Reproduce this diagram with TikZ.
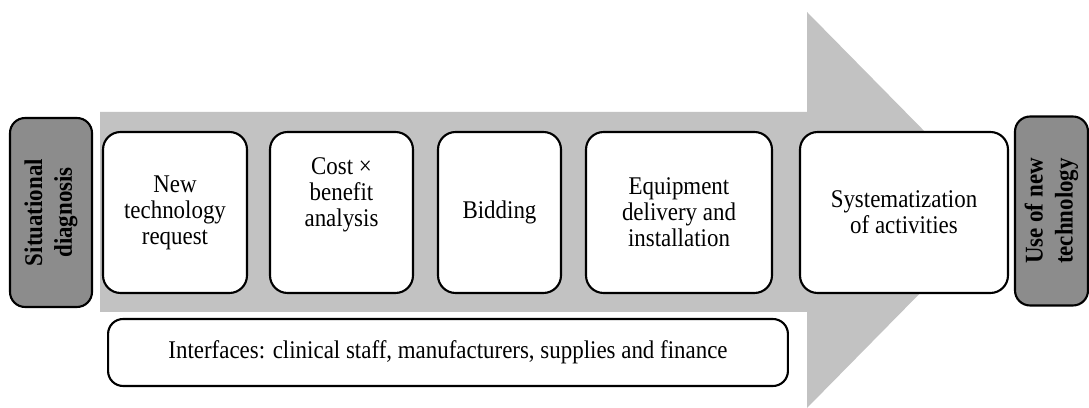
\documentclass[tikz,border=0pt]{standalone}
\usepackage{fontspec}
\setmainfont{Liberation Serif}[FakeStretch=0.9]
\usepackage{xcolor}
\usepackage{tikz}
\definecolor{flowgray}{HTML}{C2C2C2}
\definecolor{endgray}{HTML}{8C8C8C}
\tikzstyle{stage} = [
    draw,
    fill=white,
    line width=1.2pt,
    rounded corners=0.35cm,
    align=center,
    minimum height=3.22cm,
    inner sep=2pt
]
\tikzstyle{endbox} = [
    draw,
    fill=endgray,
    line width=1.2pt,
    rounded corners=0.3cm,
    align=center,
    rotate=90,
    minimum width=3.78cm,
    font=\bfseries\fontsize{14.5}{17}\selectfont
]

\begin{document}
\begin{tikzpicture}[x=0.02cm, y=-0.02cm, font=\fontsize{14.5}{14.8}\selectfont]
\useasboundingbox (0,0) rectangle (1089,408);
% big arrow behind the stages
\fill[flowgray] (100,112) -- (807,112) -- (807,12) -- (1002,210)
    -- (807,408) -- (807,312) -- (100,312) -- cycle;
\node[endbox, minimum height=1.64cm] (diag) at (51,212.5) {Situational\\diagnosis};
\node[stage, minimum width=2.88cm] (request) at (175,212.5) {New\\technology\\request};
\node[stage, minimum width=2.86cm] (cost)    at (341.5,212.5) {};
\node[align=center] (costtext) at (341.5,195) {Cost ×\\benefit\\analysis};
\node[stage, minimum width=2.46cm] (bid)     at (499.5,212.5) {Bidding};
\node[stage, minimum width=3.72cm] (deliv)   at (679,212.5) {Equipment\\delivery and\\installation};
\node[stage, minimum width=4.16cm] (system)  at (904,212.5) {Systematization\\of activities};
\node[endbox, minimum height=1.46cm] (use)   at (1051.5,211) {Use of new\\technology};
\node[draw, fill=white, line width=1.2pt, rounded corners=0.3cm,
      minimum width=13.6cm, minimum height=1.34cm] (iface) at (448,352.5)
      {Interfaces: clinical staff, manufacturers, supplies and finance};
\end{tikzpicture}
\end{document}
